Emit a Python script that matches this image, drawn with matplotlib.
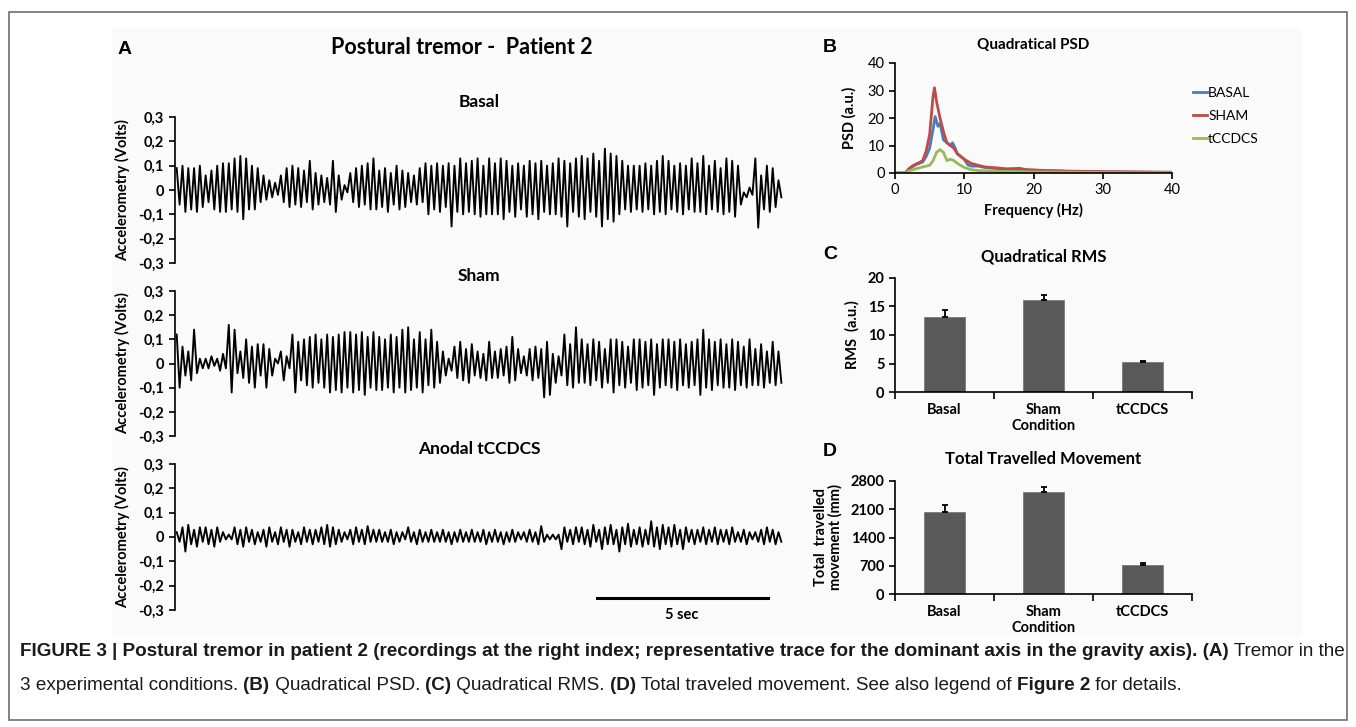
import numpy as np
import matplotlib.pyplot as plt
from matplotlib.patches import Rectangle

# ---- tremor traces: peak / trough of each oscillation cycle (Volts) ----
basal_peaks = [0.09, 0.10, 0.09, 0.09, 0.10, 0.06, 0.08, 0.10, 0.11, 0.11,
               0.13, 0.14, 0.13, 0.10, 0.09, 0.06, 0.04, 0.03, 0.06, 0.09,
               0.10, 0.09, 0.08, 0.12, 0.07, 0.06, 0.05, 0.12, 0.06, 0.02,
               0.07, 0.09, 0.10, 0.11, 0.13, 0.08, 0.09, 0.07, 0.10, 0.08,
               0.07, 0.06, 0.09, 0.11, 0.10, 0.11, 0.10, 0.11, 0.10, 0.13,
               0.11, 0.12, 0.13, 0.10, 0.13, 0.11, 0.13, 0.12, 0.10, 0.11,
               0.10, 0.12, 0.11, 0.12, 0.10, 0.11, 0.13, 0.12, 0.11, 0.13,
               0.14, 0.13, 0.15, 0.12, 0.17, 0.15, 0.14, 0.12, 0.10, 0.10,
               0.10, 0.11, 0.10, 0.12, 0.14, 0.12, 0.10, 0.11, 0.10, 0.13,
               0.11, 0.14, 0.10, 0.12, 0.09, 0.13, 0.12, 0.10, -0.01, 0.01,
               0.13, 0.06, 0.10, 0.09, 0.04]
basal_troughs = [-0.06, -0.09, -0.08, -0.09, -0.07, -0.05, -0.08, -0.09, -0.09, -0.08,
                 -0.09, -0.12, -0.08, -0.08, -0.05, -0.04, -0.03, -0.02, -0.05, -0.07,
                 -0.06, -0.07, -0.05, -0.08, -0.06, -0.05, -0.06, -0.09, -0.04, -0.01,
                 -0.05, -0.07, -0.06, -0.08, -0.08, -0.07, -0.09, -0.06, -0.08, -0.07,
                 -0.05, -0.06, -0.05, -0.10, -0.08, -0.09, -0.07, -0.15, -0.09, -0.10,
                 -0.09, -0.10, -0.11, -0.10, -0.10, -0.10, -0.12, -0.09, -0.11, -0.08,
                 -0.11, -0.10, -0.12, -0.09, -0.10, -0.10, -0.11, -0.15, -0.09, -0.11,
                 -0.12, -0.09, -0.11, -0.15, -0.12, -0.13, -0.10, -0.08, -0.09, -0.08,
                 -0.09, -0.08, -0.10, -0.09, -0.10, -0.08, -0.09, -0.10, -0.08, -0.09,
                 -0.09, -0.10, -0.08, -0.09, -0.10, -0.09, -0.11, -0.06, -0.03, -0.02,
                 -0.155, -0.08, -0.09, -0.07, -0.03]

sham_peaks = [0.12, 0.07, 0.05, 0.14, 0.02, 0.02, 0.03, 0.02, 0.04, 0.16,
              0.14, 0.05, 0.10, 0.07, 0.08, 0.08, 0.06, 0.02, 0.05, 0.03,
              0.12, 0.09, 0.10, 0.11, 0.12, 0.10, 0.12, 0.11, 0.12, 0.13,
              0.13, 0.12, 0.13, 0.11, 0.13, 0.11, 0.10, 0.12, 0.11, 0.14,
              0.15, 0.10, 0.13, 0.10, 0.14, 0.09, 0.05, 0.02, 0.07, 0.09,
              0.06, 0.08, 0.05, 0.04, 0.09, 0.05, 0.06, 0.07, 0.11, 0.06,
              0.03, 0.06, 0.07, 0.06, 0.09, 0.04, 0.03, 0.12, 0.08, 0.15,
              0.10, 0.08, 0.10, 0.09, 0.06, 0.10, 0.10, 0.09, 0.07, 0.10,
              0.10, 0.09, 0.10, 0.08, 0.10, 0.10, 0.09, 0.10, 0.08, 0.09,
              0.10, 0.14, 0.10, 0.09, 0.10, 0.08, 0.10, 0.09, 0.07, 0.10,
              0.06, 0.08, 0.05, 0.09, 0.05]
sham_troughs = [-0.10, -0.05, -0.07, -0.04, -0.02, -0.02, -0.01, -0.03, -0.02, -0.12,
                -0.04, -0.06, -0.08, -0.10, -0.05, -0.10, -0.05, 0.00, -0.07, -0.02,
                -0.12, -0.07, -0.09, -0.10, -0.08, -0.10, -0.12, -0.11, -0.12, -0.10,
                -0.12, -0.11, -0.13, -0.10, -0.11, -0.11, -0.10, -0.12, -0.10, -0.12,
                -0.11, -0.10, -0.12, -0.09, -0.10, -0.08, -0.05, -0.03, -0.06, -0.07,
                -0.08, -0.05, -0.06, -0.07, -0.06, -0.06, -0.05, -0.08, -0.07, -0.04,
                -0.05, -0.07, -0.06, -0.14, -0.13, -0.08, -0.05, -0.09, -0.10, -0.08,
                -0.08, -0.09, -0.07, -0.10, -0.08, -0.12, -0.09, -0.10, -0.08, -0.11,
                -0.10, -0.09, -0.13, -0.10, -0.09, -0.10, -0.11, -0.09, -0.10, -0.09,
                -0.13, -0.10, -0.11, -0.09, -0.10, -0.10, -0.11, -0.09, -0.10, -0.09,
                -0.09, -0.10, -0.08, -0.09, -0.08]

anodal_peaks = [0.02, 0.04, 0.05, 0.03, 0.04, 0.04, 0.03, 0.04, 0.02, 0.01,
                0.04, 0.03, 0.04, 0.03, 0.02, 0.03, 0.04, 0.02, 0.04, 0.03,
                0.03, 0.02, 0.04, 0.03, 0.03, 0.04, 0.05, 0.04, 0.03, 0.02,
                0.03, 0.04, 0.03, 0.045, 0.03, 0.03, 0.02, 0.03, 0.02, 0.02,
                0.04, 0.02, 0.03, 0.02, 0.03, 0.02, 0.03, 0.02, 0.02, 0.03,
                0.02, 0.03, 0.02, 0.03, 0.02, 0.03, 0.02, 0.02, 0.03, 0.02,
                0.02, 0.03, 0.02, 0.045, 0.01, 0.01, 0.01, 0.04, 0.03, 0.04,
                0.04, 0.03, 0.05, 0.03, 0.04, 0.05, 0.03, 0.04, 0.055, 0.03,
                0.04, 0.03, 0.065, 0.04, 0.05, 0.04, 0.05, 0.03, 0.04, 0.03,
                0.03, 0.04, 0.03, 0.04, 0.03, 0.03, 0.04, 0.02, 0.03, 0.02,
                0.02, 0.03, 0.04, 0.03, 0.02]
anodal_troughs = [-0.02, -0.06, -0.03, -0.04, -0.02, -0.03, -0.04, -0.02, -0.01, -0.01,
                  -0.03, -0.04, -0.02, -0.03, -0.02, -0.04, -0.02, -0.03, -0.02, -0.04,
                  -0.02, -0.03, -0.02, -0.03, -0.02, -0.03, -0.04, -0.03, -0.02, -0.01,
                  -0.03, -0.02, -0.03, -0.02, -0.02, -0.02, -0.02, -0.03, -0.02, -0.01,
                  -0.02, -0.03, -0.02, -0.02, -0.02, -0.02, -0.02, -0.03, -0.02, -0.02,
                  -0.02, -0.02, -0.02, -0.03, -0.02, -0.02, -0.03, -0.02, -0.02, -0.01,
                  -0.02, -0.02, -0.03, -0.02, -0.01, -0.01, -0.05, -0.02, -0.03, -0.02,
                  -0.03, -0.04, -0.02, -0.05, -0.03, -0.03, -0.06, -0.03, -0.04, -0.03,
                  -0.04, -0.03, -0.04, -0.05, -0.03, -0.04, -0.03, -0.05, -0.02, -0.03,
                  -0.02, -0.03, -0.02, -0.03, -0.02, -0.03, -0.02, -0.02, -0.03, -0.01,
                  -0.02, -0.03, -0.02, -0.03, -0.02]

half_period = 0.0847      # s between a peak and the next trough
trace_length = 17.8       # s shown on each trace

# ---- quadratical PSD ----
psd_freq_basal = [0, 1.5, 2, 3, 4, 4.5, 5, 5.5, 5.8, 6.2, 6.5, 7, 7.5, 8, 8.3, 8.7,
                  9, 9.5, 10, 10.5, 11, 12, 13, 15, 18, 20, 25, 30, 40]
psd_basal = [0, 0, 1.5, 3, 4, 6, 9, 16, 20.5, 17, 18, 12, 11, 10, 11, 9,
             7, 6, 5, 3, 2.5, 2.5, 2, 1.5, 1.2, 1, 0.6, 0.4, 0.2]
psd_freq_sham = [0, 1.5, 2, 2.5, 3, 3.5, 4, 4.5, 5, 5.5, 5.7, 6, 6.5, 7, 7.5, 8,
                 8.5, 9, 9.5, 10, 11, 12, 13, 14, 15, 16, 17, 18, 19, 20, 22, 25,
                 30, 35, 40]
psd_sham = [0, 0, 1.5, 2.5, 3.2, 3.8, 4.5, 8, 14, 28, 31, 26, 20, 15, 11, 10,
            9, 7, 6, 5, 3.5, 2.8, 2.2, 2, 1.8, 1.5, 1.6, 1.7, 1.2, 1.1, 0.9, 0.7,
            0.5, 0.4, 0.3]
psd_freq_tccdcs = [0, 1.5, 2, 3, 4, 5, 5.5, 6, 6.5, 7, 7.5, 8, 8.5, 9, 10, 11, 12,
                   15, 20, 30, 40]
psd_tccdcs = [0, 0, 0.8, 1.5, 2.2, 2.8, 4.5, 7.5, 8.5, 7.5, 4.5, 5, 4.5, 3.5, 2,
              1.2, 0.9, 0.6, 0.4, 0.2, 0.1]

# ---- bar panels ----
conditions = ["Basal", "Sham", "tCCDCS"]
rms_mean = [13.1, 16.2, 5.3]
rms_err = [1.3, 0.9, 0.2]
travel_mean = [2030, 2535, 711]
travel_err = [170, 125, 50]

fig = plt.figure(figsize=(13.56, 7.27), dpi=100)
fig_font = ["Lato", "DejaVu Sans"]
cap_font = ["Liberation Sans Narrow", "Liberation Sans", "DejaVu Sans"]
plt.rcParams["font.family"] = fig_font

# light panel background and outer frame, kept behind the axes
fig.patches.append(Rectangle((112 / 1356, 1 - 637 / 727), 1190 / 1356, 609 / 727,
                             transform=fig.transFigure, facecolor="#fafafa",
                             edgecolor="none", zorder=-5))
fig.patches.append(Rectangle((9 / 1356, 1 - 720 / 727), 1338 / 1356, 708 / 727,
                             transform=fig.transFigure, facecolor="none",
                             edgecolor="#6e6e6e", lw=1.2, zorder=-4))


def px(x, y):
    return x / 1356, 1 - y / 727


def comma_fmt(v, pos=None):
    if abs(v) < 1e-9:
        return "0"
    return f"{v:.1f}".replace(".", ",")


def trace_axes(bottom_px, top_px, title, peaks, troughs):
    ax = fig.add_axes([175 / 1356, 1 - bottom_px / 727, 608 / 1356,
                       (bottom_px - top_px) / 727])
    vals = np.ravel(np.column_stack([peaks, troughs]))
    t = np.arange(len(vals)) * half_period + 0.05
    ax.plot(t, vals, color="black", lw=1.35)
    ax.set_xlim(0, trace_length)
    ax.set_ylim(-0.3, 0.3)
    ax.set_yticks(np.arange(-0.3, 0.31, 0.1))
    ax.yaxis.set_major_formatter(plt.FuncFormatter(comma_fmt))
    for s in ["top", "right", "bottom"]:
        ax.spines[s].set_visible(False)
    ax.spines["left"].set_linewidth(1.2)
    ax.set_xticks([])
    ax.tick_params(axis="y", direction="out", length=4, width=1.2, labelsize=10.5, pad=4)
    for lab in ax.get_yticklabels():
        lab.set_fontweight("bold")
    ax.set_ylabel("Accelerometry (Volts)", fontsize=10.5, fontweight="bold", labelpad=6)
    ax.patch.set_alpha(0)
    ax.set_title(title, fontsize=12.5, fontweight="bold", pad=7)
    return ax


trace_axes(263, 117, "Basal", basal_peaks, basal_troughs)
trace_axes(436, 291, "Sham", sham_peaks, sham_troughs)
ax_an = trace_axes(610, 464, "Anodal tCCDCS", anodal_peaks, anodal_troughs)

# 5 second scale bar under the last trace
ax_an.plot([12.35, 17.35], [-0.25, -0.25], color="black", lw=2.2, clip_on=False)
ax_an.text(14.85, -0.32, "5 sec", ha="center", va="center", fontsize=10.5,
           fontweight="bold")

fig.text(*px(125, 50), "A", fontsize=14, fontweight="bold", ha="center", va="center",
         family=["Liberation Sans", "DejaVu Sans"])
fig.text(*px(462, 48), "Postural tremor -  Patient 2", fontsize=15.5,
         fontweight="bold", ha="center", va="center")

# ---- B: PSD ----
axb = fig.add_axes([895 / 1356, 1 - 173 / 727, 277 / 1356, 110 / 727])
axb.plot(psd_freq_basal, psd_basal, color="#4a7ebb", lw=2, label="BASAL")
axb.plot(psd_freq_sham, psd_sham, color="#be4b48", lw=2, label="SHAM")
axb.plot(psd_freq_tccdcs, psd_tccdcs, color="#98b954", lw=2, label="tCCDCS")
axb.set_xlim(0, 40)
axb.set_ylim(0, 40)
axb.set_xticks([0, 10, 20, 30, 40])
axb.set_yticks([0, 10, 20, 30, 40])
for s in ["top", "right"]:
    axb.spines[s].set_visible(False)
for s in ["left", "bottom"]:
    axb.spines[s].set_linewidth(1.2)
axb.tick_params(direction="out", length=4, width=1.2, labelsize=10.5, colors="black")
axb.set_xlabel("Frequency (Hz)", fontsize=10.5, fontweight="bold", labelpad=4)
axb.set_ylabel("PSD (a.u.)", fontsize=10.5, fontweight="bold", labelpad=8)
axb.set_title("Quadratical PSD", fontsize=11, fontweight="bold", pad=10)
axb.patch.set_alpha(0)
axb.legend(loc="center left", bbox_to_anchor=(1.03, 0.52), frameon=False,
           fontsize=10, handlelength=1.0, handletextpad=0.1, labelspacing=0.8)
fig.text(*px(830, 48), "B", fontsize=14, fontweight="bold", ha="center", va="center",
         family=["Liberation Sans", "DejaVu Sans"])


def bar_axes(top_px, bottom_px, means, errs, ymax, ystep, title, ylabel, letter,
             letter_y):
    ax = fig.add_axes([895 / 1356, 1 - bottom_px / 727, 297 / 1356,
                       (bottom_px - top_px) / 727])
    x = np.arange(len(conditions))
    ax.bar(x, means, width=0.42, color="#595959", edgecolor="#7a7a7a", lw=0.6,
           zorder=2)
    ax.errorbar(x, means, yerr=[[0] * len(errs), errs], fmt="none", ecolor="black",
                elinewidth=1.3, capsize=2, capthick=1.3, zorder=3)
    ax.set_xlim(-0.5, 2.5)
    ax.set_ylim(0, ymax)
    ax.set_yticks(np.arange(0, ymax + 1, ystep))
    ax.set_xticks([-0.5, 0.5, 1.5, 2.5])
    ax.set_xticklabels([])
    ax.set_xticks(x, minor=True)
    ax.set_xticklabels(conditions, minor=True)
    ax.tick_params(axis="x", which="minor", length=0, pad=8, labelsize=10.5)
    ax.tick_params(axis="x", which="major", direction="out", length=5, width=1.2)
    ax.tick_params(axis="y", direction="out", length=4, width=1.2, labelsize=10.5)
    for lab in ax.get_yticklabels() + ax.get_xticklabels(minor=True):
        lab.set_fontweight("bold")
    for s in ["top", "right"]:
        ax.spines[s].set_visible(False)
    for s in ["left", "bottom"]:
        ax.spines[s].set_linewidth(1.2)
    ax.set_xlabel("Condition", fontsize=10.5, fontweight="bold", labelpad=1)
    ax.set_ylabel(ylabel, fontsize=10.5, fontweight="bold", labelpad=6,
                  linespacing=1.0)
    ax.set_title(title, fontsize=12, fontweight="bold", pad=12)
    ax.patch.set_alpha(0)
    fig.text(*px(830, letter_y), letter, fontsize=14, fontweight="bold", ha="center",
             va="center", family=["Liberation Sans", "DejaVu Sans"])
    return ax


bar_axes(278, 392, rms_mean, rms_err, 20, 5, "Quadratical RMS", "RMS  (a.u.)", "C", 255)
bar_axes(481, 594, travel_mean, travel_err, 2800, 700, "Total Travelled Movement",
         "Total  travelled\nmovement (mm)", "D", 452)

# ---- caption with bold and regular runs ----
renderer = fig.canvas.get_renderer()


def caption_line(y_px, runs, x_px=20, size=13.6):
    x = x_px / 1356
    y = 1 - y_px / 727
    for txt, bold in runs:
        t = fig.text(x, y, txt, fontsize=size, va="center", ha="left",
                     fontweight="bold" if bold else "normal", family=cap_font,
                     color="#1a1a1a")
        bb = t.get_window_extent(renderer=renderer)
        x += bb.width / fig.bbox.width


caption_line(652, [("FIGURE 3 | Postural tremor in patient 2 (recordings at the right index; "
                    "representative trace for the dominant axis in the gravity axis). (A)", True),
                   (" Tremor in the", False)])
caption_line(685, [("3 experimental conditions. ", False), ("(B)", True),
                   (" Quadratical PSD. ", False), ("(C)", True),
                   (" Quadratical RMS. ", False), ("(D)", True),
                   (" Total traveled movement. See also legend of ", False),
                   ("Figure 2", True), (" for details.", False)])

fig.savefig("out.png", dpi=100)
